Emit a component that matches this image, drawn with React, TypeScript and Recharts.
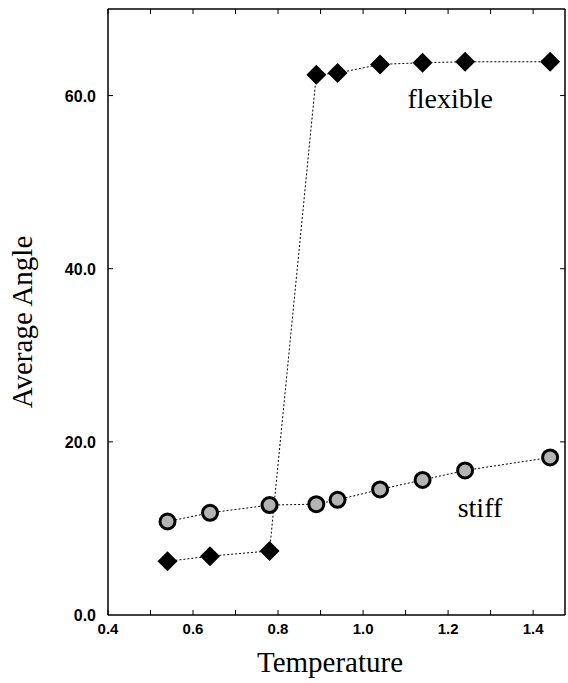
import React from 'react';
import {
  LineChart,
  Line,
  XAxis,
  YAxis,
  ReferenceDot,
} from 'recharts';

// temperature (x) shared by both series
const temperature = [0.54, 0.64, 0.78, 0.89, 0.94, 1.04, 1.14, 1.24, 1.44];
const stiffAngle = [10.8, 11.8, 12.7, 12.8, 13.3, 14.5, 15.6, 16.7, 18.2];
const flexibleAngle = [6.2, 6.8, 7.4, 62.4, 62.6, 63.6, 63.8, 63.9, 63.9];

const xLabelTicks = [0.4, 0.6, 0.8, 1.0, 1.2, 1.4];
const xMinorTicks = [0.4, 0.5, 0.6, 0.7, 0.8, 0.9, 1.0, 1.1, 1.2, 1.3, 1.4];
const yTicks = [0, 20, 40, 60];
const yRightTicks = [20, 40, 60];

// annotation anchors (data coords)
const flexibleNote = { x: 1.205, y: 59.7, text: 'flexible' };
const stiffNote = { x: 1.275, y: 12.5, text: 'stiff' };

const chartData = temperature.map((t, i) => ({
  t,
  stiff: stiffAngle[i],
  flexible: flexibleAngle[i],
}));

const serif = '"Liberation Serif", "Times New Roman", serif';
const sans = '"Liberation Sans", Arial, sans-serif';

const DiamondDot = (props: any) => {
  const { cx, cy, index } = props;
  const h = 10;
  return (
    <polygon
      key={`d-${index}`}
      points={`${cx},${cy - h} ${cx + h},${cy} ${cx},${cy + h} ${cx - h},${cy}`}
      fill="#000"
    />
  );
};

const CircleDot = (props: any) => {
  const { cx, cy, index } = props;
  return (
    <circle
      key={`c-${index}`}
      cx={cx}
      cy={cy}
      r={7.5}
      fill="#b4b4b4"
      stroke="#000"
      strokeWidth={3}
    />
  );
};

// tick marks only, no label
const NoLabel = () => <g />;

const XTick = (props: any) => {
  const { x, y, payload } = props;
  return (
    <text x={x} y={y + 11} textAnchor="middle" fontFamily={sans} fontWeight={700} fontSize={15} fill="#000">
      {Number(payload.value).toFixed(1)}
    </text>
  );
};

const YTick = (props: any) => {
  const { x, y, payload } = props;
  return (
    <text x={x} y={y + 6} textAnchor="end" fontFamily={sans} fontWeight={700} fontSize={16} fill="#000">
      {Number(payload.value).toFixed(1)}
    </text>
  );
};

const XTitle = () => (
  <text x={330} y={672} textAnchor="middle" fontFamily={serif} fontSize={29} fill="#000">
    Temperature
  </text>
);

const YTitle = () => (
  <text
    x={32}
    y={322}
    transform="rotate(-90, 32, 322)"
    textAnchor="middle"
    fontFamily={serif}
    fontSize={29}
    fill="#000"
  >
    Average Angle
  </text>
);

export default function App() {
  return (
    <div style={{ position: 'absolute', left: 0, top: 0, width: 568, height: 683, background: '#fff' }}>
      <LineChart
        width={568}
        height={683}
        data={chartData}
        margin={{ top: 9, right: 3, bottom: 0, left: 0 }}
      >
        <XAxis
          xAxisId="main"
          dataKey="t"
          type="number"
          domain={[0.4, 1.475]}
          allowDataOverflow
          ticks={xLabelTicks}
          tickLine={false}
          height={68}
          axisLine={{ stroke: '#000', strokeWidth: 1.5 }}
          tick={XTick}
          label={<XTitle />}
        />
        <XAxis
          xAxisId="minor"
          dataKey="t"
          type="number"
          domain={[0.4, 1.475]}
          allowDataOverflow
          ticks={xMinorTicks}
          mirror
          tick={NoLabel}
          tickSize={5}
          axisLine={false}
          tickLine={{ stroke: '#000' }}
        />
        <XAxis
          xAxisId="top"
          dataKey="t"
          type="number"
          orientation="top"
          domain={[0.4, 1.475]}
          allowDataOverflow
          ticks={xMinorTicks}
          mirror
          tick={NoLabel}
          tickSize={5}
          axisLine={{ stroke: '#000', strokeWidth: 1.5 }}
          tickLine={{ stroke: '#000' }}
        />
        <YAxis
          yAxisId="main"
          type="number"
          domain={[0, 70]}
          allowDataOverflow
          ticks={yTicks}
          tickLine={false}
          tickMargin={6}
          width={108}
          axisLine={{ stroke: '#000', strokeWidth: 1.5 }}
          tick={YTick}
          label={<YTitle />}
        />
        <YAxis
          yAxisId="leftMinor"
          type="number"
          domain={[0, 70]}
          allowDataOverflow
          ticks={yRightTicks}
          mirror
          tick={NoLabel}
          tickSize={5}
          axisLine={false}
          tickLine={{ stroke: '#000' }}
        />
        <YAxis
          yAxisId="right"
          type="number"
          orientation="right"
          domain={[0, 70]}
          allowDataOverflow
          ticks={yRightTicks}
          mirror
          tick={NoLabel}
          tickSize={5}
          axisLine={{ stroke: '#000', strokeWidth: 1.5 }}
          tickLine={{ stroke: '#000' }}
        />
        <Line
          xAxisId="main"
          yAxisId="main"
          type="linear"
          dataKey="stiff"
          stroke="#000"
          strokeWidth={1}
          strokeDasharray="2 2"
          dot={CircleDot}
          activeDot={false}
          isAnimationActive={false}
        />
        <Line
          xAxisId="main"
          yAxisId="main"
          type="linear"
          dataKey="flexible"
          stroke="#000"
          strokeWidth={1}
          strokeDasharray="2 2"
          dot={DiamondDot}
          activeDot={false}
          isAnimationActive={false}
        />
        <ReferenceDot
          xAxisId="main"
          yAxisId="main"
          x={flexibleNote.x}
          y={flexibleNote.y}
          r={0}
          fill="none"
          stroke="none"
          label={{
            value: flexibleNote.text,
            position: 'center',
            style: { fontFamily: serif, fontSize: 28, fill: '#000' },
          }}
        />
        <ReferenceDot
          xAxisId="main"
          yAxisId="main"
          x={stiffNote.x}
          y={stiffNote.y}
          r={0}
          fill="none"
          stroke="none"
          label={{
            value: stiffNote.text,
            position: 'center',
            style: { fontFamily: serif, fontSize: 28, fill: '#000' },
          }}
        />
      </LineChart>
    </div>
  );
}
